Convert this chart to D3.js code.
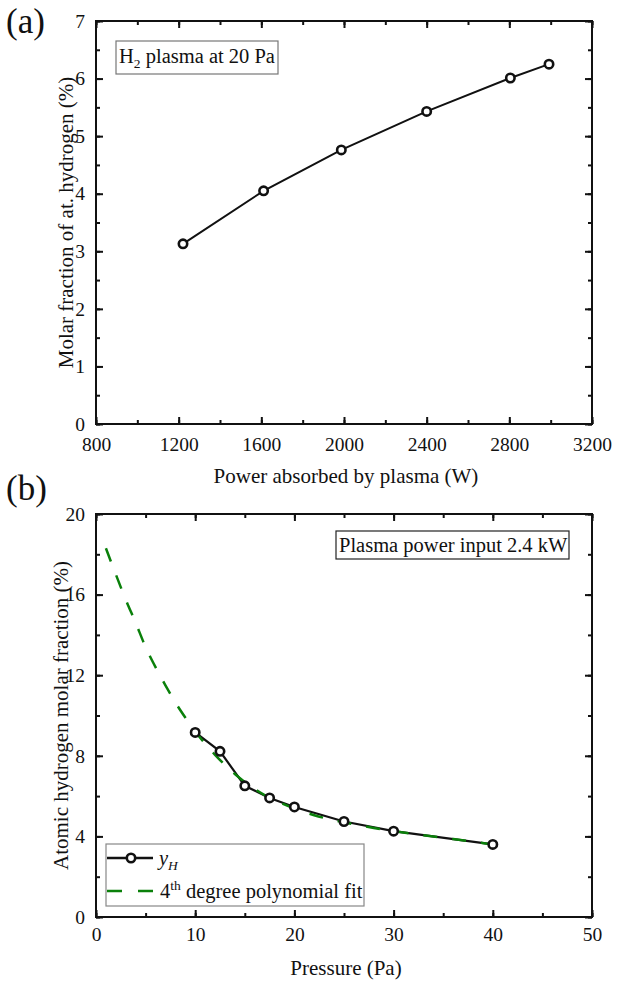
<!DOCTYPE html>
<html><head><meta charset="utf-8">
<script src="https://cdn.jsdelivr.net/npm/d3@7"></script>
<style>body{margin:0;background:#fff}svg{display:block}</style>
</head><body>
<svg id="c" width="618" height="984" font-family="Liberation Serif"></svg>
<script>
// Panel (a)
const powerW = [1221, 1611, 1987, 2400, 2805, 2992];
const molarFracA = [3.13, 4.05, 4.76, 5.43, 6.01, 6.25];
const xTicksA = [800, 1200, 1600, 2000, 2400, 2800, 3200];
const yTicksA = [0, 1, 2, 3, 4, 5, 6, 7];
// Panel (b)
const pressurePa = [10, 12.5, 15, 17.5, 20, 25, 30, 40];
const yH = [9.16, 8.22, 6.51, 5.91, 5.46, 4.74, 4.26, 3.60];
const fitP = [1, 2, 3, 4, 5, 6, 7, 8, 9, 10, 11, 12, 13, 14, 15, 16, 17, 18, 20, 22, 24, 26, 28, 30, 32, 34, 36, 38, 40];
const fitY = [18.3, 17.0, 15.75, 14.6, 13.4, 12.4, 11.5, 10.65, 9.9, 9.2, 8.6, 8.05, 7.55, 7.1, 6.7, 6.35, 6.05, 5.8, 5.38, 5.05, 4.8, 4.6, 4.42, 4.26, 4.12, 3.99, 3.87, 3.74, 3.6];
const xTicksB = [0, 10, 20, 30, 40, 50];
const yTicksB = [0, 4, 8, 12, 16, 20];

const svg = d3.select("#c");
const L = 96, R = 592;
const FONT = "Liberation Serif";
const INK = "#111";

function panel(o) {
  const g = svg.append("g");
  const x = d3.scaleLinear().domain(o.xd).range([L, R]);
  const y = d3.scaleLinear().domain(o.yd).range([o.bot, o.top]);
  const majLen = 7, minLen = 4;
  const fmt = d3.format("d");
  const xMinor = d3.range(o.xd[0], o.xd[1] + 1e-9, o.xMinorStep);
  const yMinor = d3.range(o.yd[0], o.yd[1] + 1e-9, o.yMinorStep);
  const axes = [
    [d3.axisBottom(x).tickValues(o.xTicks).tickSize(-majLen).tickPadding(o.xPad).tickFormat(fmt), `translate(0,${o.bot})`],
    [d3.axisTop(x).tickValues(o.xTicks).tickSize(-majLen).tickFormat(""), `translate(0,${o.top})`],
    [d3.axisLeft(y).tickValues(o.yTicks).tickSize(-majLen).tickPadding(11).tickFormat(fmt), `translate(${L},0)`],
    [d3.axisRight(y).tickValues(o.yTicks).tickSize(-majLen).tickFormat(""), `translate(${R},0)`]
  ];
  axes.forEach(([ax, tr]) => {
    const a = g.append("g").attr("transform", tr).call(ax);
    a.attr("font-family", FONT).attr("font-size", 19.5);
    a.select(".domain").remove();
    a.selectAll("line").attr("stroke", INK).attr("stroke-width", 2);
    a.selectAll("text").attr("fill", INK);
  });
  const minorAxes = [
    [d3.axisBottom(x).tickValues(xMinor).tickSize(-minLen).tickFormat(""), `translate(0,${o.bot})`],
    [d3.axisTop(x).tickValues(xMinor).tickSize(-minLen).tickFormat(""), `translate(0,${o.top})`],
    [d3.axisLeft(y).tickValues(yMinor).tickSize(-minLen).tickFormat(""), `translate(${L},0)`],
    [d3.axisRight(y).tickValues(yMinor).tickSize(-minLen).tickFormat(""), `translate(${R},0)`]
  ];
  minorAxes.forEach(([ax, tr]) => {
    const a = g.append("g").attr("transform", tr).call(ax);
    a.select(".domain").remove();
    a.selectAll("line").attr("stroke", INK).attr("stroke-width", 2);
  });
  g.append("rect").attr("x", L).attr("y", o.top).attr("width", R - L).attr("height", o.bot - o.top)
    .attr("fill", "none").attr("stroke", INK).attr("stroke-width", 2);
  g.append("text").attr("x", (L + R) / 2 + 2).attr("y", o.bot + o.titleOff).attr("text-anchor", "middle")
    .attr("font-family", FONT).attr("font-size", 21).attr("fill", INK).text(o.xLabel);
  g.append("text").attr("transform", `translate(${o.yTitleX},${(o.top + o.bot) / 2}) rotate(-90)`).attr("text-anchor", "middle")
    .attr("font-family", FONT).attr("font-size", 21).attr("fill", INK).text(o.yLabel);
  g.append("text").attr("x", 6).attr("y", o.tagY).attr("font-family", FONT).attr("font-size", 35).attr("fill", INK).text(o.tag);
  return {g, x, y};
}

// ---- Panel (a)
const A = panel({xd: [800, 3200], yd: [0, 7], top: 21, bot: 424, xTicks: xTicksA, yTicks: yTicksA,
  xMinorStep: 200, yMinorStep: 0.5, xLabel: "Power absorbed by plasma (W)", xPad: 13, titleOff: 59,
  yLabel: "Molar fraction of at. hydrogen (%)", yTitleX: 73, tag: "(a)", tagY: 33});
const dataA = powerW.map((p, i) => [p, molarFracA[i]]);
A.g.append("path").datum(dataA).attr("fill", "none").attr("stroke", INK).attr("stroke-width", 2)
  .attr("d", d3.line().x(d => A.x(d[0])).y(d => A.y(d[1])));
A.g.selectAll("circle.m").data(dataA).join("circle").attr("cx", d => A.x(d[0])).attr("cy", d => A.y(d[1]))
  .attr("r", 4.2).attr("fill", "#fff").attr("stroke", INK).attr("stroke-width", 2.6);
A.g.append("rect").attr("x", 116).attr("y", 41).attr("width", 162).attr("height", 33)
  .attr("fill", "#fff").attr("stroke", "#777").attr("stroke-width", 1.2);
const ta = A.g.append("text").attr("x", 119).attr("y", 63).attr("font-family", FONT).attr("font-size", 20.5).attr("fill", INK);
ta.append("tspan").text("H");
ta.append("tspan").attr("dy", 5).attr("font-size", 13.5).text("2");
ta.append("tspan").attr("dy", -5).text(" plasma at 20 Pa");

// ---- Panel (b)
const B = panel({xd: [0, 50], yd: [0, 20], top: 514, bot: 917, xTicks: xTicksB, yTicks: yTicksB,
  xMinorStep: 5, yMinorStep: 2, xLabel: "Pressure (Pa)", xPad: 10, titleOff: 58,
  yLabel: "Atomic hydrogen molar fraction (%)", yTitleX: 68, tag: "(b)", tagY: 500});
const dataB = pressurePa.map((p, i) => [p, yH[i]]);
const fitData = fitP.map((p, i) => [p, fitY[i]]);
B.g.append("path").datum(dataB).attr("fill", "none").attr("stroke", INK).attr("stroke-width", 2.2)
  .attr("d", d3.line().x(d => B.x(d[0])).y(d => B.y(d[1])));
B.g.append("path").datum(fitData).attr("fill", "none").attr("stroke", "#0a800a").attr("stroke-width", 2.5)
  .attr("stroke-dasharray", "14,15")
  .attr("d", d3.line().curve(d3.curveMonotoneX).x(d => B.x(d[0])).y(d => B.y(d[1])));
B.g.selectAll("circle.m").data(dataB).join("circle").attr("cx", d => B.x(d[0])).attr("cy", d => B.y(d[1]))
  .attr("r", 4.2).attr("fill", "#fff").attr("stroke", INK).attr("stroke-width", 2.6);
B.g.append("rect").attr("x", 336).attr("y", 531).attr("width", 233).attr("height", 28)
  .attr("fill", "#fff").attr("stroke", "#222").attr("stroke-width", 1.2);
B.g.append("text").attr("x", 339).attr("y", 552).attr("font-family", FONT).attr("font-size", 20.5).attr("fill", INK)
  .text("Plasma power input 2.4 kW");

// Legend
const lg = B.g.append("g");
lg.append("rect").attr("x", 106).attr("y", 844).attr("width", 258).attr("height", 62)
  .attr("fill", "#fff").attr("stroke", "#888").attr("stroke-width", 1.2);
lg.append("line").attr("x1", 107).attr("x2", 153).attr("y1", 858).attr("y2", 858).attr("stroke", INK).attr("stroke-width", 2.4);
lg.append("circle").attr("cx", 131).attr("cy", 858).attr("r", 4.2).attr("fill", "#fff").attr("stroke", INK).attr("stroke-width", 2.6);
const t1 = lg.append("text").attr("x", 159).attr("y", 865).attr("font-family", FONT).attr("font-size", 20.5)
  .attr("font-style", "italic").attr("fill", INK);
t1.append("tspan").text("y");
t1.append("tspan").attr("dy", 5).attr("font-size", 13.5).text("H");
lg.append("line").attr("x1", 107).attr("x2", 153).attr("y1", 891).attr("y2", 891).attr("stroke", "#0a800a")
  .attr("stroke-width", 2.5).attr("stroke-dasharray", "15,16");
const t2 = lg.append("text").attr("x", 160).attr("y", 898).attr("font-family", FONT).attr("font-size", 20.5).attr("fill", INK);
t2.append("tspan").text("4");
t2.append("tspan").attr("dy", -8).attr("font-size", 13.5).text("th");
t2.append("tspan").attr("dy", 8).text(" degree polynomial fit");
</script>
</body></html>
